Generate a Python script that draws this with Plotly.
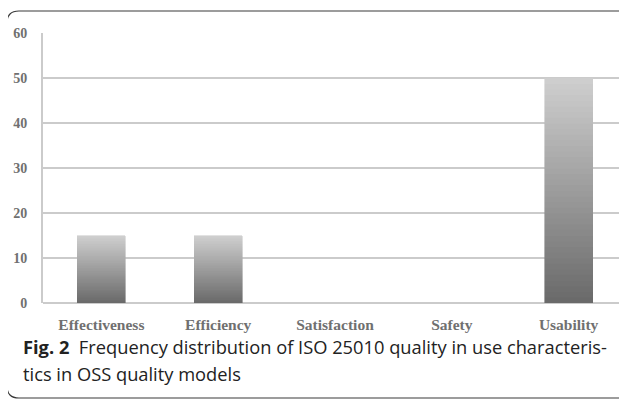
import plotly.graph_objects as go

categories = ["Effectiveness", "Efficiency", "Satisfaction", "Safety", "Usability"]
values = [15, 15, 0, 0, 50]
y_ticks = [0, 10, 20, 30, 40, 50, 60]

caption_bold = "Fig. 2"
caption_line1 = "Frequency distribution of ISO 25010 quality in use characteris-"
caption_line2 = "tics in OSS quality models"

# gradient rendering: each bar split into N stacked slices, dark at bottom -> light at top
N = 40
dark = (106, 106, 106)
light = (206, 206, 206)

fig = go.Figure()
for i in range(N):
    t = i / (N - 1)
    c = tuple(int(round(dark[k] + (light[k] - dark[k]) * t)) for k in range(3))
    fig.add_trace(go.Bar(
        x=categories,
        y=[v / N for v in values],
        marker=dict(color=f"rgb{c}", line=dict(width=0.6, color=f"rgb{c}")),
        width=0.41,
        hoverinfo="skip",
        showlegend=False,
    ))

OFF = 8  # page body margin
W, H = 627 - OFF, 402 - OFF
L, T = 43 - OFF, 33 - OFF
plot_w = W - L
plot_h = 270
B = H - T - plot_h


def py(ref_y):
    """reference pixel y -> paper y"""
    return ((T + plot_h) - (ref_y - OFF)) / plot_h


def px(ref_x):
    return ((ref_x - OFF) - L) / plot_w


fig.update_layout(
    width=W, height=H,
    barmode="stack",
    margin=dict(l=L, r=0, t=T, b=B, pad=0, autoexpand=False),
    paper_bgcolor="white",
    plot_bgcolor="white",
    xaxis=dict(
        showgrid=False, zeroline=False, showline=False,
        ticks="outside", ticklen=7, tickcolor="rgba(0,0,0,0)",
        tickfont=dict(family="Liberation Serif", size=15.5, color="#707070", weight="bold"),
        range=[-0.5, 4.5],
    ),
    yaxis=dict(
        range=[0, 60], tickvals=y_ticks,
        showgrid=True, gridcolor="#cbcbcb", gridwidth=2,
        zeroline=True, zerolinecolor="#cbcbcb", zerolinewidth=2,
        showline=True, linecolor="#cbcbcb", linewidth=2,
        ticks="outside", ticklen=11, tickcolor="rgba(0,0,0,0)",
        tickfont=dict(family="Liberation Serif", size=14, color="#707070", weight="bold"),
    ),
)

# rounded border box, pixel path relative to the plot's bottom-left corner
x0, x1 = (7 - OFF) - L, (634 - OFF) - L
ytop = (T + plot_h) - (11 - OFF)
ybot = (T + plot_h) - (398 - OFF)
r = 12
path = (f"M {x0+r},{ytop} L {x1-r},{ytop} Q {x1},{ytop} {x1},{ytop-r} "
        f"L {x1},{ybot+r} Q {x1},{ybot} {x1-r},{ybot} "
        f"L {x0+r},{ybot} Q {x0},{ybot} {x0},{ybot+r} "
        f"L {x0},{ytop-r} Q {x0},{ytop} {x0+r},{ytop} Z")
fig.add_shape(type="path", xref="paper", yref="paper",
              xsizemode="pixel", ysizemode="pixel", xanchor=0, yanchor=0,
              path=path, line=dict(color="#3a3a3a", width=1.2), layer="above")

fig.add_annotation(
    xref="paper", yref="paper", x=px(21), y=py(346),
    xanchor="left", yanchor="middle", align="left",
    text=f"<b>{caption_bold}</b>  {caption_line1}",
    showarrow=False,
    font=dict(family="Open Sans", size=18.3, color="#222222"),
)
fig.add_annotation(
    xref="paper", yref="paper", x=px(21), y=py(373),
    xanchor="left", yanchor="middle", align="left",
    text=caption_line2,
    showarrow=False,
    font=dict(family="Open Sans", size=18.3, color="#222222"),
)

fig.write_html("out.html")
